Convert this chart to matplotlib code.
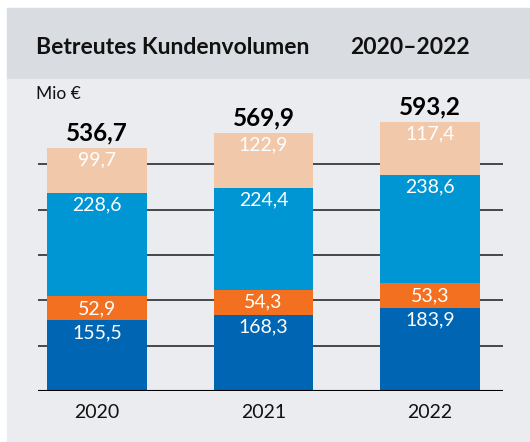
import matplotlib
matplotlib.use("Agg")
import matplotlib.pyplot as plt
from matplotlib.patches import Rectangle
import numpy as np

plt.rcParams['font.family'] = ['Lato', 'DejaVu Sans']

years = ["2020", "2021", "2022"]
seg1 = [155.5, 168.3, 183.9]   # dark blue
seg2 = [52.9, 54.3, 53.3]      # orange
seg3 = [228.6, 224.4, 238.6]   # light blue
seg4 = [99.7, 122.9, 117.4]    # peach
totals = [536.7, 569.9, 593.2]

series = [seg1, seg2, seg3, seg4]
colors = ["#0066b3", "#f37021", "#0095d3", "#f2c8aa"]

W, H = 530, 442
fig = plt.figure(figsize=(W / 100, H / 100), dpi=100)
fig.patch.set_facecolor("white")

def px_rect(x0, y0, x1, y1, color):
    fig.patches.append(Rectangle((x0 / W, 1 - y1 / H), (x1 - x0) / W, (y1 - y0) / H,
                                 transform=fig.transFigure, color=color, zorder=-10))

px_rect(7, 8, W, 79, "#d9dce1")
px_rect(7, 79, W, H, "#ebecf0")

ax_left, ax_right = 37.7, 502.7
ax_bottom = 391
ylim_top = 600
ppu = 0.4535
ax_top = ax_bottom - ylim_top * ppu
ax = fig.add_axes([ax_left / W, 1 - ax_bottom / H, (ax_right - ax_left) / W, (ax_bottom - ax_top) / H])
ax.set_facecolor("none")
ax.set_ylim(0, ylim_top)
ax.set_xlim(-0.356, 2.437)

for v in [100, 200, 300, 400, 500]:
    ax.axhline(v, color="#3a3a3a", lw=1.3, zorder=0)
ax.axhline(0, color="black", lw=1.5, zorder=3)

x = np.arange(len(years))
bottom = np.zeros(len(years))
for vals, c in zip(series, colors):
    vals = np.array(vals)
    ax.bar(x, vals, width=0.6, bottom=bottom, color=c, zorder=2, linewidth=0)
    for xi, b, v in zip(x, bottom, vals):
        ax.annotate(f"{v:.1f}".replace(".", ","), (xi, b + v), xytext=(0, -12),
                    textcoords="offset pixels", ha="center", va="center",
                    color="white", fontsize=14, zorder=4)
    bottom += vals

for xi, t in zip(x, totals):
    ax.annotate(f"{t:.1f}".replace(".", ","), (xi, t), xytext=(0, 15),
                textcoords="offset pixels", ha="center", va="center",
                color="black", fontsize=17.5, fontweight="bold", zorder=4)

for xi, yr in zip(x, years):
    ax.annotate(yr, (xi, 0), xytext=(0, -21), textcoords="offset pixels",
                ha="center", va="center", fontsize=14, color="#111111")

for s in ax.spines.values():
    s.set_visible(False)
ax.set_xticks([])
ax.set_yticks([])

fig.text(36 / W, 1 - 47 / H, "Betreutes Kundenvolumen", fontsize=16.5, fontweight="bold",
         ha="left", va="center", color="#111111")
fig.text(350 / W, 1 - 47 / H, "2020\u20132022", fontsize=16.5, fontweight="bold",
         ha="left", va="center", color="#111111")
fig.text(36 / W, 1 - 94 / H, "Mio \u20ac", fontsize=12.5, ha="left", va="center", color="#111111")

fig.savefig("out.png", dpi=100, facecolor=fig.get_facecolor())
